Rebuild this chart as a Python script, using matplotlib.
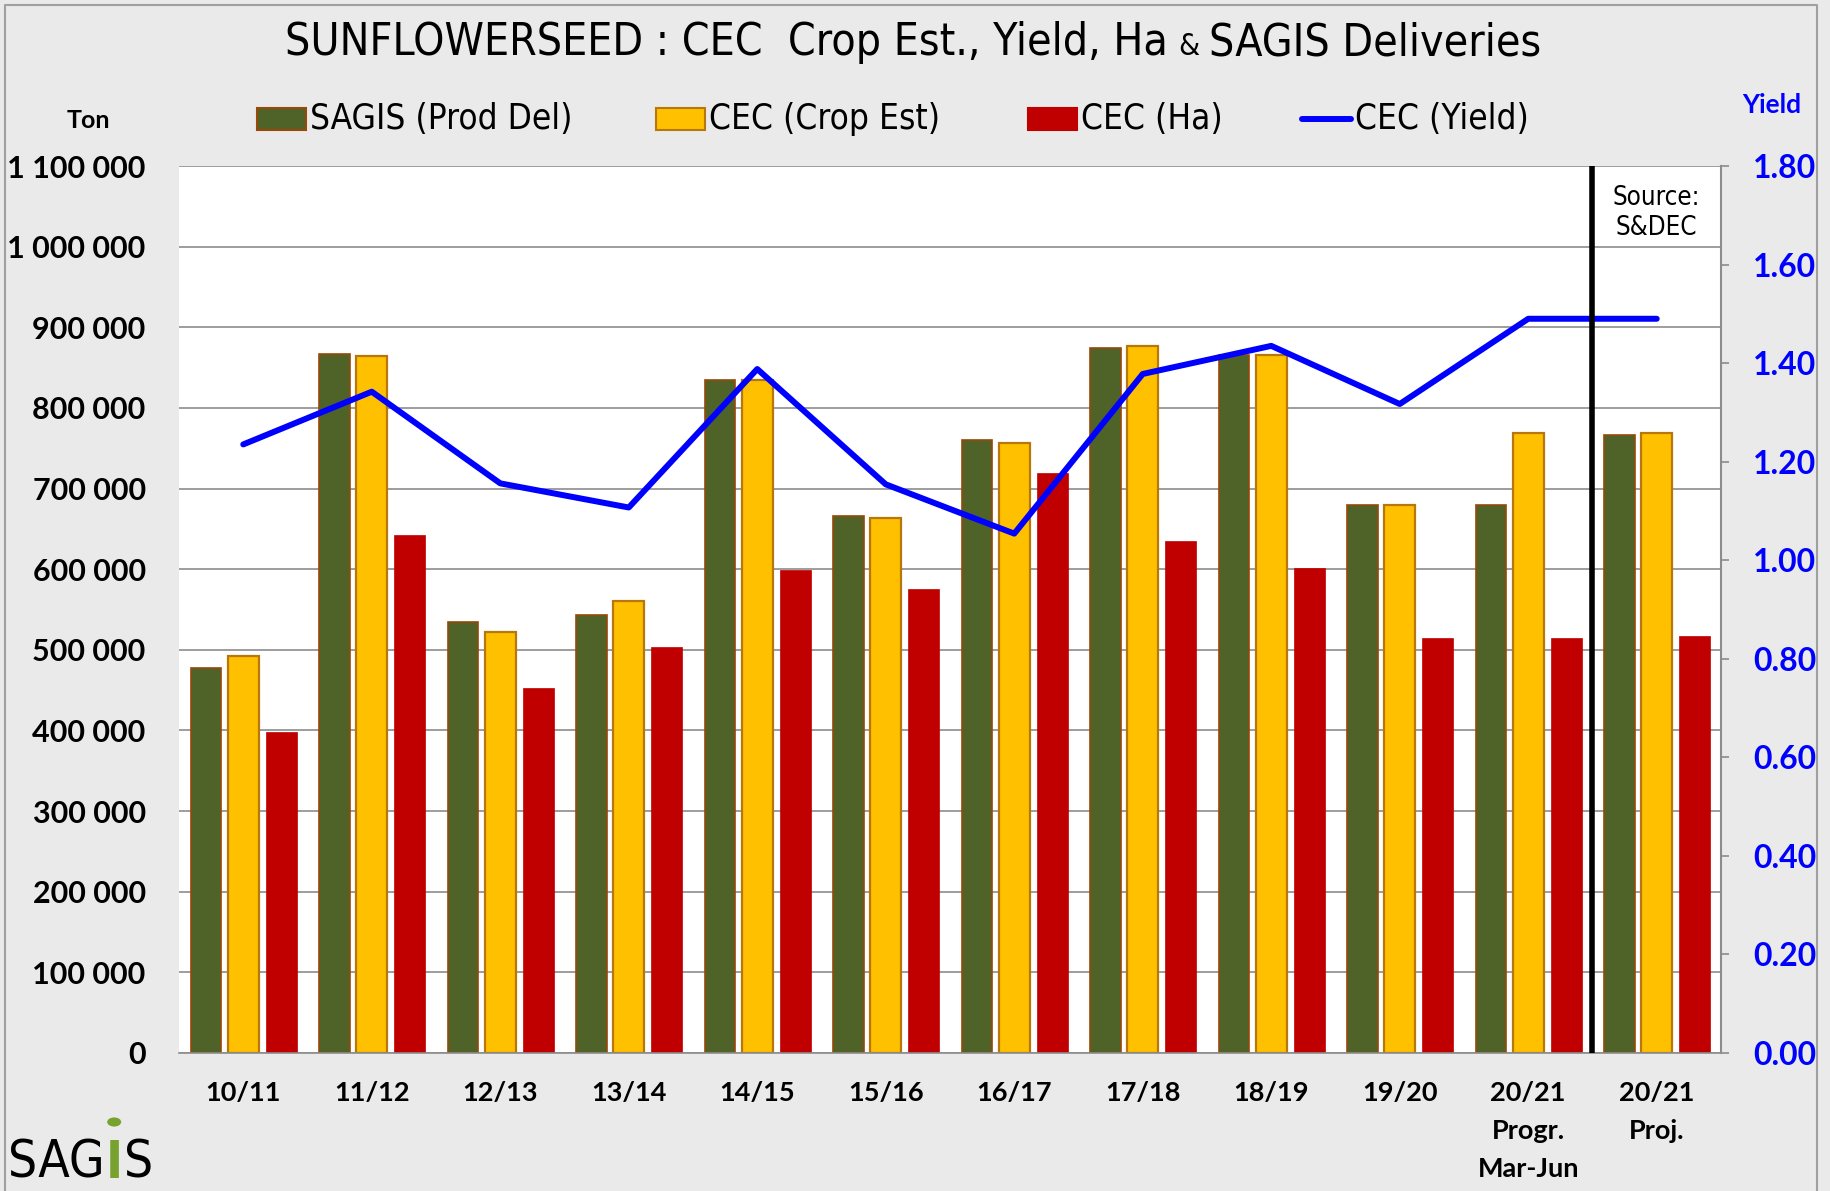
import matplotlib
matplotlib.use("Agg")
import matplotlib.pyplot as plt
from matplotlib import font_manager
from matplotlib.patches import Rectangle, Circle
from matplotlib.lines import Line2D
from matplotlib.ticker import FuncFormatter
import numpy as np

seasons = ['10/11', '11/12', '12/13', '13/14', '14/15', '15/16', '16/17',
           '17/18', '18/19', '19/20', '20/21\nProgr.\nMar-Jun', '20/21\nProj.']
sagis_del = [478000, 867000, 535000, 543000, 835000, 666000, 760000,
             874000, 865000, 679000, 679000, 767000]
cec_crop = [492000, 864000, 522000, 560000, 834000, 664000, 757000,
            877000, 865000, 680000, 769000, 769000]
cec_ha = [398000, 642000, 453000, 504000, 599000, 576000, 719000,
          635000, 601000, 515000, 515000, 517000]
cec_yield = [1.235, 1.342, 1.156, 1.107, 1.388, 1.154, 1.054,
             1.378, 1.435, 1.317, 1.490, 1.490]

# pick a narrow font if one is around
fonts = font_manager.fontManager.ttflist
names = {f.name for f in fonts}
condensed = any(f.name == 'DejaVu Sans' and f.stretch in ('condensed', 'semi-condensed')
                for f in fonts)
if 'Liberation Sans Narrow' in names:
    narrow = dict(family=['Liberation Sans Narrow', 'DejaVu Sans'])
    k = 1.0
elif condensed:
    narrow = dict(family=['DejaVu Sans'], fontstretch='condensed')
    k = 0.9
else:
    narrow = dict(family=['Liberation Sans', 'DejaVu Sans'])
    k = 0.85
boldf = ['Lato', 'DejaVu Sans']

W, H = 1831, 1191
fig = plt.figure(figsize=(W / 100, H / 100), dpi=100, facecolor='#EAEAEA')
ax = fig.add_axes([179 / W, 1 - 1053 / H, (1721 - 179) / W, (1053 - 166) / H])
ax.set_facecolor('white')

x = np.arange(len(seasons))
w = 0.24
ax.bar(x - 0.29, sagis_del, w, color='#4F6228', edgecolor='#984807', linewidth=1.2, zorder=2)
ax.bar(x, cec_crop, w, color='#FFC000', edgecolor='#B7770A', linewidth=1.6, zorder=2)
ax.bar(x + 0.295, cec_ha, w, color='#C00000', edgecolor='#C00000', linewidth=0.5, zorder=2)

ax.set_xlim(-0.5, len(seasons) - 0.5)
ax.set_ylim(0, 1100000)
ax.set_yticks(np.arange(0, 1100001, 100000))
ax.yaxis.set_major_formatter(FuncFormatter(lambda v, p: f"{int(v):,}".replace(',', ' ')))
ax.yaxis.grid(True, color='#8C8C8C', linewidth=1.2)
ax.set_axisbelow(True)
for s in ['left', 'top', 'right']:
    ax.spines[s].set_visible(False)
ax.spines['bottom'].set_color('#8C8C8C')
ax.spines['bottom'].set_linewidth(1.2)
ax.tick_params(axis='y', length=0, pad=24, labelsize=22)
ax.tick_params(axis='x', length=0, pad=20, labelsize=19.5)
ax.set_xticks(x)
ax.set_xticklabels(seasons, linespacing=1.7)
for lab in ax.get_yticklabels() + ax.get_xticklabels():
    lab.set_family(boldf)
    lab.set_fontweight('bold')

ax2 = ax.twinx()
ax2.plot(x, cec_yield, color='#0000FF', linewidth=4.3, solid_capstyle='round', zorder=3)
ax2.axvline(10.5, color='black', linewidth=4, zorder=4)
ax2.set_ylim(0, 1.8)
ax2.set_yticks(np.arange(0, 1.81, 0.2))
ax2.yaxis.set_major_formatter(FuncFormatter(lambda v, p: f"{v:.2f}"))
ax2.tick_params(axis='y', length=6, width=1.2, color='#8C8C8C', pad=17,
                labelsize=23, labelcolor='#0000FF')
for lab in ax2.get_yticklabels():
    lab.set_family(boldf)
    lab.set_fontweight('bold')
for s in ['left', 'top', 'bottom']:
    ax2.spines[s].set_visible(False)
ax2.spines['right'].set_color('#8C8C8C')
ax2.spines['right'].set_linewidth(1.5)

ax2.text(11.0, 1.705, 'Source:\nS&DEC', ha='center', va='center', fontsize=20.7 * k,
         linespacing=1.2, **narrow)

fig.canvas.draw()
r = fig.canvas.get_renderer()

# title: three pieces, the '&' smaller
base = 1 - 55 / H
parts = [('SUNFLOWERSEED : CEC  Crop Est., Yield, Ha', 35.5 * k),
         ('&', 24 * k),
         ('SAGIS Deliveries', 35.5 * k)]
gap = 10
tt = [fig.text(0, base, s, ha='left', va='baseline', fontsize=fs, **narrow) for s, fs in parts]
widths = [t.get_window_extent(r).width for t in tt]
total = sum(widths) + gap * (len(tt) - 1)
cur = 913 - total / 2
for t, wd in zip(tt, widths):
    t.set_x(cur / W)
    cur += wd + gap

# legend
ly = 1 - 119 / H
items = [(257, 'patch', '#4F6228', '#984807', 'SAGIS (Prod Del)'),
         (656, 'patch', '#FFC000', '#B7770A', 'CEC (Crop Est)'),
         (1028, 'patch', '#C00000', '#C00000', 'CEC (Ha)'),
         (1302, 'line', '#0000FF', None, 'CEC (Yield)')]
for px, kind, fc, ec, label in items:
    if kind == 'patch':
        fig.patches.append(Rectangle((px / W, ly - 11 / H), 49 / W, 22 / H, facecolor=fc,
                                     edgecolor=ec, linewidth=1.5, transform=fig.transFigure))
    else:
        fig.lines.append(Line2D([px / W, (px + 49) / W], [ly, ly], color=fc, linewidth=4.3,
                                solid_capstyle='round', transform=fig.transFigure))
    fig.text((px + 53) / W, ly, label, ha='left', va='center', fontsize=28 * k, **narrow)

fig.text(88 / W, 1 - 121 / H, 'Ton', ha='center', va='center', fontsize=18,
         family=boldf, fontweight='bold')
fig.text(1772 / W, 1 - 105 / H, 'Yield', ha='center', va='center', fontsize=19,
         family=boldf, fontweight='bold', color='#0000FF')

# SAGIS logo, letters placed one after another
lb = 1 - 1178 / H
t1 = fig.text(8 / W, lb, 'SAG', ha='left', va='baseline', fontsize=41 * k, **narrow)
x1 = t1.get_window_extent(r).x1
t2 = fig.text((x1 + 1) / W, lb, 'I', ha='left', va='baseline', fontsize=41 * k,
              color='#78A22F', fontweight='bold', **narrow)
bb2 = t2.get_window_extent(r)
fig.text((bb2.x1 + 1) / W, lb, 'S', ha='left', va='baseline', fontsize=41 * k, **narrow)
fig.patches.append(Circle(((bb2.x0 + bb2.x1) / 2 / W, 1 - 1122 / H), 7 / W,
                          facecolor='#78A22F', edgecolor='none', transform=fig.transFigure))

# outer border
fig.lines.append(Line2D([5 / W, 5 / W, 1817 / W, 1817 / W], [0, 1 - 5 / H, 1 - 5 / H, 0],
                        color='#A0A0A0', linewidth=1.5, transform=fig.transFigure))

fig.savefig('out.png', dpi=100, facecolor=fig.get_facecolor())
